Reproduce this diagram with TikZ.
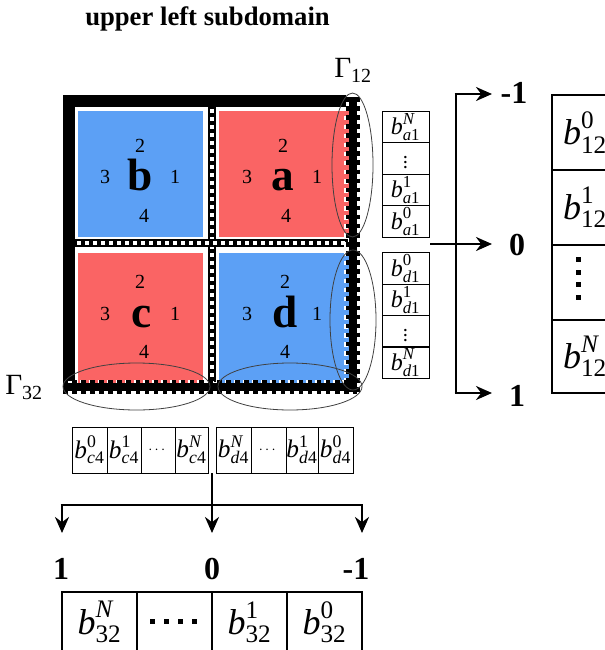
\documentclass[tikz,border=0pt]{standalone}
\usepackage{fontspec}
\usepackage{amsmath}
\setmainfont{Liberation Serif}
\usetikzlibrary{arrows.meta,shapes.geometric}
\definecolor{sqblue}{RGB}{92,160,245}
\definecolor{sqred}{RGB}{250,100,100}
\newcommand\bb[2]{$\textit{b}^{\text{#1}}_{\text{#2}}$}
\tikzset{
  sq/.style={inner sep=0pt, outer sep=0pt, draw=none},
  num/.style={inner sep=0pt, anchor=base, font=\fontsize{15}{15}\selectfont},
  letter/.style={inner sep=0pt, anchor=base, font=\fontsize{34}{34}\selectfont\bfseries},
  frame/.style={line width=9pt},
  divcore/.style={line width=6pt},
  divholes/.style={white, line width=2.6pt, dash pattern=on 3pt off 3pt},
  gteeth/.style={line width=11pt, dash pattern=on 3.4pt off 3.4pt},
  gcore/.style={line width=5.5pt},
  notch/.style={white, line width=3pt, dash pattern=on 3.4pt off 3.4pt, dash phase=3.4pt},
  ell/.style={ellipse, draw=black!75, line width=0.6pt, inner sep=0pt, fill=none},
  cell/.style={draw, line width=0.75pt, inner sep=0pt, minimum width=35.25pt, minimum height=23.6pt, font=\fontsize{18}{18}\selectfont},
  hcell/.style={draw, line width=0.75pt, inner sep=0pt, minimum height=34.5pt, minimum width=#1*0.75pt, font=\fontsize{19}{19}\selectfont},
  bigcell/.style={draw, line width=1.5pt, inner sep=0pt, font=\fontsize{27}{27}\selectfont},
  lab/.style={inner sep=0pt, font=\fontsize{24}{24}\selectfont\bfseries},
  conn/.style={line width=1.9pt},
  arr/.style={line width=1.9pt, -{Stealth[length=12pt,width=10.5pt]}},
  dotsq/.style={fill=black},
  smalldots/.style={font=\fontsize{11}{11}\selectfont\bfseries}
}
\begin{document}
\begin{tikzpicture}[x=0.75pt,y=-0.75pt]
\useasboundingbox (0,0) rectangle (605,650);

% title
\node[inner sep=0pt, anchor=base west, font=\fontsize{20}{20}\selectfont\bfseries] (title) at (85,25) {upper left subdomain};

% squares
\node[sq, fill=sqblue, minimum width=93.75pt, minimum height=94.5pt] (b) at (140.5,174) {};
\node[sq, fill=sqred, minimum width=97.5pt, minimum height=94.5pt] (a) at (284,174) {};
\node[sq, fill=sqred, minimum width=93.75pt, minimum height=98.25pt] (c) at (140.5,318.5) {};
\node[sq, fill=sqblue, minimum width=97.5pt, minimum height=98.25pt] (d) at (284,318.5) {};

% square labels
\node[num] (b2) at (140,152) {2};
\node[num] (b3) at (105,183) {3};
\node[num] (b1) at (175,183) {1};
\node[num] (b4) at (144,222) {4};
\node[letter] (bl) at (140,190) {b};
\node[num] (a2) at (283,152) {2};
\node[num] (a3) at (247,183) {3};
\node[num] (a1) at (317,183) {1};
\node[num] (a4) at (286,222) {4};
\node[letter] (al) at (283,190) {a};
\node[num] (c2) at (140,288) {2};
\node[num] (c3) at (105,320) {3};
\node[num] (c1) at (175,320) {1};
\node[num] (c4) at (144,358) {4};
\node[letter] (cl) at (142,327) {c};
\node[num] (d2) at (285,288) {2};
\node[num] (d3) at (247,320) {3};
\node[num] (d1) at (317,320) {1};
\node[num] (d4) at (285,358) {4};
\node[letter] (dl) at (285,327) {d};

% frame
\draw[frame] (69,95) -- (69,381);
\draw[frame] (63,101) -- (346,101);
% inner dividers
\draw[divcore] (212,107) -- (212,382);
\draw[divholes] (212,109) -- (212,382);
\draw[divcore] (75,243) -- (348,243);
\draw[divholes] (77,243) -- (348,243);
% notches
\draw[notch] (345.5,111) -- (345.5,382);
\draw[notch] (75,382) -- (349,382);
% Gamma boundaries
\draw[gteeth] (353,97) -- (353,392);
\draw[gcore] (353,97) -- (353,392);
\draw[gteeth] (63,387) -- (357,387);
\draw[gcore] (63,387) -- (357,387);

% ellipses
\node[ell, minimum width=30.75pt, minimum height=108pt] (e1) at (352.5,165) {};
\node[ell, minimum width=34.5pt, minimum height=105pt] (e2) at (353,320) {};
\node[ell, minimum width=110.25pt, minimum height=35.25pt] (e3) at (136.5,386.5) {};
\node[ell, minimum width=108pt, minimum height=35.25pt] (e4) at (290,386.5) {};

% Gamma labels
\node[inner sep=0pt, anchor=base west, font=\fontsize{22}{22}\selectfont] (g12) at (334,77) {Γ\raisebox{-0.2em}{\fontsize{15}{15}\selectfont 12}};
\node[inner sep=0pt, anchor=base west, font=\fontsize{22}{22}\selectfont] (g32) at (5,394) {Γ\raisebox{-0.2em}{\fontsize{15}{15}\selectfont 32}};

% right small column
\node[cell] (a1N) at (405.5,127) {\bb{\textit{N}}{\textit{a}1}};
\node[cell, smalldots] (a1v) at (405.5,158.5) {$\vdots$};
\node[cell] (a1o) at (405.5,190) {\bb{1}{\textit{a}1}};
\node[cell] (a1z) at (405.5,221.5) {\bb{0}{\textit{a}1}};
\node[cell] (d1z) at (405.5,268.5) {\bb{0}{\textit{d}1}};
\node[cell] (d1o) at (405.5,300) {\bb{1}{\textit{d}1}};
\node[cell, smalldots] (d1v) at (405.5,331.5) {$\vdots$};
\node[cell] (d1N) at (405.5,362.5) {\bb{\textit{N}}{\textit{d}1}};

% bottom small row
\node[hcell=35] (c4z) at (89.5,450) {\bb{0}{\textit{c}4}};
\node[hcell=34] (c4o) at (124,450) {\bb{1}{\textit{c}4}};
\node[hcell=34, smalldots] (c4d) at (158,450) {$\cdots$};
\node[hcell=33] (c4N) at (191.5,450) {\bb{\textit{N}}{\textit{c}4}};
\node[hcell=35] (d4N) at (233.5,450) {\bb{\textit{N}}{\textit{d}4}};
\node[hcell=35, smalldots] (d4d) at (268.5,450) {$\cdots$};
\node[hcell=32] (d4o) at (302,450) {\bb{1}{\textit{d}4}};
\node[hcell=35] (d4z) at (335.5,450) {\bb{0}{\textit{d}4}};

% right arrows
\coordinate (colout) at (430,244);
\coordinate (vtop) at (456,94);
\coordinate (vmid) at (456,244);
\coordinate (vbot) at (456,393);
\coordinate (ttop) at (492,94);
\coordinate (tmid) at (492,244);
\coordinate (tbot) at (492,393);
\draw[conn] (vtop) -- (vbot);
\draw[arr] (colout) -- (tmid);
\draw[arr] ([xshift=-0.95pt]vtop) -- (ttop);
\draw[arr] ([xshift=-0.95pt]vbot) -- (tbot);
\node[lab] (rm1) at (514,93) {-1};
\node[lab] (r0) at (517,245) {0};
\node[lab] (r1) at (517,396) {1};

% right big column
\node[bigcell, minimum width=49.5pt, minimum height=56.25pt] (r12z) at (585,132.5) {\bb{0}{12}};
\node[bigcell, minimum width=49.5pt, minimum height=56.25pt] (r12o) at (585,207.5) {\bb{1}{12}};
\node[bigcell, minimum width=49.5pt, minimum height=56.25pt] (r12d) at (585,282.5) {};
\node[bigcell, minimum width=49.5pt, minimum height=54.75pt] (r12N) at (585,356.5) {\bb{\textit{N}}{12}};
\foreach \yy in {259,272,284.5,297} \fill[dotsq] (576,\yy-2.5) rectangle (581,\yy+2.5);

% bottom arrows
\coordinate (bstart) at (212,473);
\coordinate (bsplit) at (212,505);
\coordinate (bl) at (62,505);
\coordinate (br) at (362,505);
\coordinate (blt) at (62,533);
\coordinate (bmt) at (212,533);
\coordinate (brt) at (362,533);
\draw[conn] ([xshift=-0.95pt]bl) -- ([xshift=0.95pt]br);
\draw[arr] (bstart) -- (bmt);
\draw[arr] (bl) -- (blt);
\draw[arr] (br) -- (brt);
\node[lab] (bl1) at (61,569) {1};
\node[lab] (bl0) at (212,569) {0};
\node[lab] (blm1) at (356,569) {-1};

% bottom big row
\node[bigcell, minimum width=56.25pt, minimum height=52.5pt] (b32N) at (99.5,627) {};
\node[bigcell, minimum width=56.25pt, minimum height=52.5pt] (b32d) at (174.5,627) {};
\node[bigcell, minimum width=56.25pt, minimum height=52.5pt] (b32o) at (249.5,627) {};
\node[bigcell, minimum width=56.25pt, minimum height=52.5pt] (b32z) at (324.5,627) {};
\node[inner sep=0pt, font=\fontsize{27}{27}\selectfont] (t32N) at (99.5,622) {\bb{\textit{N}}{32}};
\node[inner sep=0pt, font=\fontsize{27}{27}\selectfont] (t32o) at (249.5,622) {\bb{1}{32}};
\node[inner sep=0pt, font=\fontsize{27}{27}\selectfont] (t32z) at (324.5,622) {\bb{0}{32}};
\foreach \xx in {152.5,166,180,194.5} \fill[dotsq] (\xx-2.5,619) rectangle (\xx+2.5,624);
\end{tikzpicture}
\end{document}
